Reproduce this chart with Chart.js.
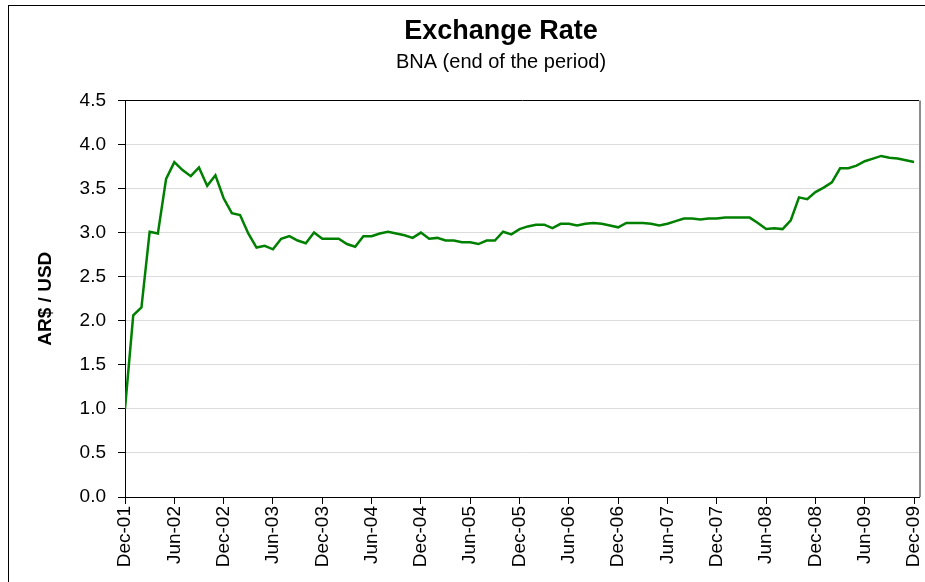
<!DOCTYPE html>
<html>
<head>
<meta charset="utf-8">
<script src="https://cdn.jsdelivr.net/npm/chart.js@4.4.1/dist/chart.umd.min.js"></script>
<style>
    html, body { margin: 0; padding: 0; background: #fff; overflow: hidden; }
    #frame {
        position: absolute;
        left: 8px;
        top: 5px;
        width: 984px;
        height: 600px;
        border: 1px solid #000;
        background: #fff;
    }
    canvas { display: block; }
</style>
</head>
<body>
<div id="frame">
    <canvas id="rateChart" width="984" height="577"></canvas>
</div>
<script>
// 数据
const tickLabels = [
    'Dec-01', 'Jun-02', 'Dec-02', 'Jun-03', 'Dec-03', 'Jun-04', 'Dec-04', 'Jun-05', 'Dec-05',
    'Jun-06', 'Dec-06', 'Jun-07', 'Dec-07', 'Jun-08', 'Dec-08', 'Jun-09', 'Dec-09'
];

// 月度汇率 Dec-01 ... Dec-09
const rate2001 = [1.00];
const rate2002 = [2.06, 2.15, 3.01, 2.99, 3.61, 3.80, 3.71, 3.64, 3.74, 3.53, 3.65, 3.39];
const rate2003 = [3.22, 3.20, 2.99, 2.83, 2.85, 2.81, 2.93, 2.96, 2.91, 2.88, 3.00, 2.93];
const rate2004 = [2.93, 2.93, 2.87, 2.84, 2.96, 2.96, 2.99, 3.01, 2.99, 2.97, 2.94, 3.00];
const rate2005 = [2.93, 2.94, 2.91, 2.91, 2.89, 2.89, 2.87, 2.91, 2.91, 3.01, 2.98, 3.04];
const rate2006 = [3.07, 3.09, 3.09, 3.05, 3.10, 3.10, 3.08, 3.10, 3.11, 3.10, 3.08, 3.06];
const rate2007 = [3.11, 3.11, 3.11, 3.10, 3.08, 3.10, 3.13, 3.16, 3.16, 3.15, 3.16, 3.16];
const rate2008 = [3.17, 3.17, 3.17, 3.17, 3.11, 3.04, 3.05, 3.04, 3.14, 3.40, 3.38, 3.46];
const rate2009 = [3.51, 3.57, 3.73, 3.73, 3.76, 3.81, 3.84, 3.87, 3.85, 3.84, 3.82, 3.80];

const rateValues = [].concat(rate2001, rate2002, rate2003, rate2004, rate2005,
    rate2006, rate2007, rate2008, rate2009);

const yTicks = [0, 0.5, 1.0, 1.5, 2.0, 2.5, 3.0, 3.5, 4.0, 4.5];

const FONT = 'Liberation Sans, Arial, sans-serif';

// 右侧边框
const plotBorder = {
    id: 'plotBorder',
    afterDraw(chart) {
        const a = chart.chartArea;
        const ctx = chart.ctx;
        ctx.save();
        ctx.strokeStyle = '#8c8c8c';
        ctx.lineWidth = 2;
        ctx.beginPath();
        ctx.moveTo(a.right + 1, a.top);
        ctx.lineTo(a.right + 1, a.bottom);
        ctx.stroke();
        ctx.restore();
    }
};

const ctx = document.getElementById('rateChart').getContext('2d');
const rateChart = new Chart(ctx, {
    type: 'line',
    data: {
        datasets: [{
            label: 'AR$ / USD',
            data: rateValues.map((v, i) => ({ x: i, y: v })),
            borderColor: '#008000',
            borderWidth: 2.5,
            pointRadius: 0,
            tension: 0,
            fill: false
        }]
    },
    options: {
        responsive: false,
        animation: false,
        devicePixelRatio: 1,
        layout: { padding: 0 },
        plugins: {
            legend: { display: false },
            tooltip: { enabled: false },
            title: {
                display: true,
                text: 'Exchange Rate',
                color: '#000',
                font: { family: FONT, size: 27, weight: 'bold' },
                padding: { top: 9, bottom: 0 }
            },
            subtitle: {
                display: true,
                text: 'BNA (end of the period)',
                color: '#000',
                font: { family: FONT, size: 20 },
                padding: { top: 3, bottom: 26 }
            }
        },
        scales: {
            x: {
                type: 'linear',
                min: 0,
                max: 96.6,
                afterFit(scale) { scale.height = 86; },
                ticks: {
                    stepSize: 6,
                    includeBounds: false,
                    autoSkip: false,
                    minRotation: 90,
                    maxRotation: 90,
                    padding: 2,
                    color: '#000',
                    font: { family: FONT, size: 19 },
                    callback: (value) => tickLabels[value / 6]
                },
                grid: {
                    drawOnChartArea: false,
                    drawTicks: true,
                    tickLength: 7,
                    tickColor: '#000'
                },
                border: { display: true, color: '#000', width: 1 }
            },
            y: {
                min: 0,
                max: 4.5,
                afterFit(scale) { scale.width = 116; },
                afterBuildTicks(scale) { scale.ticks = yTicks.map(v => ({ value: v })); },
                ticks: {
                    padding: 12,
                    color: '#000',
                    font: { family: FONT, size: 19 },
                    callback: (value) => value.toFixed(1)
                },
                grid: {
                    color: (c) => (c.tick && c.tick.value === 4.5) ? '#000' : '#dcdcdc',
                    lineWidth: 1,
                    tickLength: 7,
                    tickColor: '#000'
                },
                border: { display: true, color: '#000', width: 1 },
                title: {
                    display: true,
                    text: 'AR$ / USD',
                    color: '#000',
                    font: { family: FONT, size: 19, weight: 'bold' },
                    padding: { top: 25, bottom: 0 }
                }
            },
            // 右侧留白（图表区域右边，标题仍按整幅居中）
            yRight: {
                type: 'linear',
                position: 'right',
                min: 0,
                max: 4.5,
                afterFit(scale) { scale.width = 74; },
                ticks: { display: false },
                grid: { display: false },
                border: { display: false }
            }
        }
    },
    plugins: [plotBorder]
});
</script>
</body>
</html>
